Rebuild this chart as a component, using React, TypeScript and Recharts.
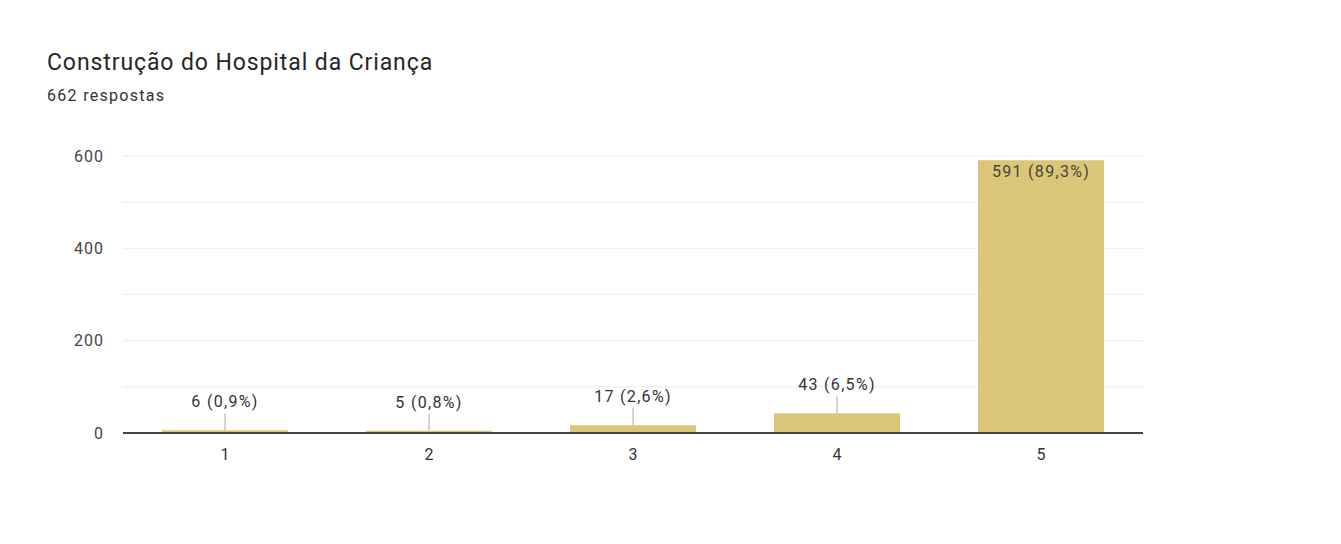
import { BarChart, Bar, XAxis, YAxis, CartesianGrid, LabelList } from 'recharts';

// Respostas por nota (escala 1-5)
const categories = ['1', '2', '3', '4', '5'];
const counts = [6, 5, 17, 43, 591];
const percents = ['0,9%', '0,8%', '2,6%', '6,5%', '89,3%'];
const yTicks = [0, 100, 200, 300, 400, 500, 600];
const yLabelled = [0, 200, 400, 600];

const chartData = categories.map((name, i) => ({
  name,
  value: counts[i],
  label: `${counts[i]} (${percents[i]})`,
}));

const FONT = 'Roboto, Arial, sans-serif';

const BarLabel = (props: any) => {
  const { x, y, width, index } = props;
  const cx = x + width / 2;
  const text = chartData[index].label;
  // a barra alta leva o rótulo por dentro
  if (index === chartData.length - 1) {
    return (
      <text x={cx} y={y + 13} textAnchor="middle" dominantBaseline="middle" fill="#444" fontSize={16} fontFamily={FONT} style={{ letterSpacing: 1.3 }}>
        {text}
      </text>
    );
  }
  return (
    <g>
      <line x1={cx} y1={y} x2={cx} y2={y - 17} stroke="#aaa" strokeWidth={1} />
      <text x={cx} y={y - 27} textAnchor="middle" dominantBaseline="middle" fill="#333" fontSize={16} fontFamily={FONT} style={{ letterSpacing: 1.3 }}>
        {text}
      </text>
    </g>
  );
};

export default function App() {
  return (
    <div style={{ position: 'absolute', left: 0, top: 0, width: 1341, height: 544, background: '#fff', fontFamily: FONT }}>
      <div style={{ position: 'absolute', left: 47, top: 49, fontSize: 23, lineHeight: '28px', color: '#262626', letterSpacing: 0.9, whiteSpace: 'nowrap' }}>
        Construção do Hospital da Criança
      </div>
      <div style={{ position: 'absolute', left: 47, top: 86, fontSize: 16, lineHeight: '20px', color: '#333', letterSpacing: 1.3, whiteSpace: 'nowrap' }}>
        662 respostas
      </div>
      <div style={{ position: 'absolute', left: 0, top: 0 }}>
        <BarChart
          width={1341}
          height={544}
          data={chartData}
          margin={{ top: 156, right: 198, left: 63, bottom: 81 }}
          barCategoryGap={0}
        >
          <CartesianGrid vertical={false} stroke="#ececec" />
          <XAxis
            dataKey="name"
            axisLine={{ stroke: '#444', strokeWidth: 2 }}
            tickLine={false}
            tickSize={0}
            tickMargin={16}
            height={30}
            tick={{ fill: '#333', fontSize: 16, fontFamily: FONT }}
          />
          <YAxis
            domain={[0, 600]}
            ticks={yTicks}
            interval={0}
            axisLine={false}
            tickLine={false}
            tickSize={0}
            tickMargin={19}
            width={60}
            tickFormatter={(v: number) => (yLabelled.includes(v) ? String(v) : '')}
            tick={{ fill: '#444', fontSize: 16, fontFamily: FONT, style: { letterSpacing: 1 } }}
          />
          <Bar dataKey="value" fill="#dbc677" barSize={126} isAnimationActive={false}>
            <LabelList dataKey="label" content={<BarLabel />} />
          </Bar>
        </BarChart>
      </div>
    </div>
  );
}
